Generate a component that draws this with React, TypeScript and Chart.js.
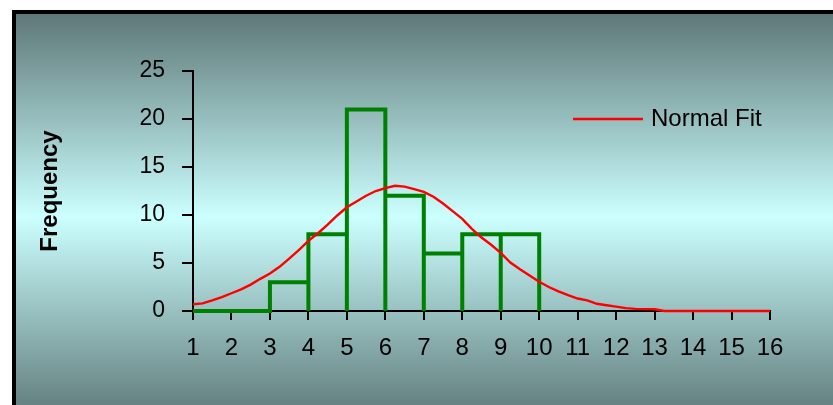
import React, { useEffect, useRef } from "react";
import { Chart, registerables } from "chart.js";

Chart.register(...registerables);

// ---- data ----
const binStarts = [1, 2, 3, 4, 5, 6, 7, 8, 9];
const binEnds = [2, 3, 4, 5, 6, 7, 8, 9, 10];
const frequencies = [0, 0, 3, 8, 21, 12, 6, 8, 8];

const fitX = [
  1, 1.25, 1.5, 1.75, 2, 2.25, 2.5, 2.75, 3, 3.25, 3.5, 3.75, 4, 4.25, 4.5, 4.75,
  5, 5.25, 5.5, 5.75, 6, 6.25, 6.5, 6.75, 7, 7.25, 7.5, 7.75, 8, 8.25, 8.5, 8.75,
  9, 9.25, 9.5, 9.75, 10, 10.25, 10.5, 10.75, 11, 11.25, 11.5, 11.75, 12, 12.25,
  12.5, 12.75, 13, 13.25, 13.5, 14, 14.5, 15, 15.5, 16,
];
const fitY = [
  0.7, 0.8, 1.1, 1.45, 1.85, 2.25, 2.75, 3.35, 3.9, 4.6, 5.45, 6.35, 7.3, 8.1, 9.0, 9.95,
  10.8, 11.4, 12.0, 12.5, 12.8, 13.05, 12.95, 12.7, 12.4, 11.9, 11.2, 10.4, 9.6, 8.55, 7.65, 6.9,
  6.05, 5.05, 4.35, 3.7, 3.05, 2.5, 2.05, 1.65, 1.3, 1.1, 0.75, 0.6, 0.45, 0.3,
  0.22, 0.2, 0.18, 0, 0, 0, 0, 0, 0, 0,
];

const xMin = 1;
const xMax = 16;
const yMin = 0;
const yMax = 25;
const yStep = 5;
const fitLabel = "Normal Fit";
const yTitle = "Frequency";

const FONT = '"Liberation Sans", Arial, Helvetica, sans-serif';

const backgroundPlugin = {
  id: "bgFrame",
  beforeDraw(chart: any) {
    const { ctx, width, height } = chart;
    ctx.save();
    ctx.fillStyle = "#ffffff";
    ctx.fillRect(0, 0, width, height);
    const top = 14;
    const bottom = 420;
    const g = ctx.createLinearGradient(0, top, 0, bottom);
    g.addColorStop(0, "#5e7878");
    g.addColorStop(0.5, "#ccffff");
    g.addColorStop(1, "#5e7878");
    ctx.fillStyle = g;
    ctx.fillRect(16, top, width - 16, height - top);
    ctx.fillStyle = "#000000";
    ctx.fillRect(12, 10, width - 12, 4);
    ctx.fillRect(12, 10, 4, height - 10);
    ctx.restore();
  },
};

const legendPlugin = {
  id: "customLegend",
  afterDraw(chart: any) {
    const ds = chart.data.datasets[0];
    const { ctx } = chart;
    ctx.save();
    ctx.strokeStyle = ds.borderColor;
    ctx.lineWidth = 2.3;
    ctx.beginPath();
    ctx.moveTo(573, 119);
    ctx.lineTo(643, 119);
    ctx.stroke();
    ctx.fillStyle = "#000000";
    ctx.font = `24px ${FONT}`;
    ctx.textBaseline = "middle";
    ctx.textAlign = "left";
    ctx.fillText(ds.label, 651, 119);
    ctx.restore();
  },
};

export default function App() {
  const ref = useRef<HTMLCanvasElement | null>(null);

  useEffect(() => {
    if (!ref.current) return;
    const outline: { x: number; y: number }[] = [];
    binStarts.forEach((s, i) => {
      const e = binEnds[i];
      const f = frequencies[i];
      outline.push({ x: s, y: 0 }, { x: s, y: f }, { x: e, y: f }, { x: e, y: 0 });
    });
    const fit = fitX.map((x, i) => ({ x, y: fitY[i] }));

    const chart = new Chart(ref.current, {
      type: "line",
      data: {
        datasets: [
          {
            label: fitLabel,
            data: fit,
            borderColor: "#ff0000",
            borderWidth: 2.4,
            pointRadius: 0,
            fill: false,
            tension: 0,
            order: 0,
            clip: false as any,
          },
          {
            label: "Histogram",
            data: outline,
            borderColor: "#008000",
            borderWidth: 4,
            pointRadius: 0,
            fill: false,
            tension: 0,
            borderJoinStyle: "miter",
            borderCapStyle: "butt",
            order: 1,
            clip: false as any,
          },
        ],
      },
      options: {
        responsive: false,
        animation: false,
        layout: { padding: { top: 71, right: 63, left: 0, bottom: 0 } },
        plugins: {
          legend: { display: false },
          tooltip: { enabled: false },
        },
        scales: {
          x: {
            type: "linear",
            min: xMin,
            max: xMax,
            ticks: {
              stepSize: 1,
              color: "#000000",
              font: { family: FONT, size: 24 },
              padding: 14,
              maxRotation: 0,
              autoSkip: false,
            },
            grid: {
              drawOnChartArea: false,
              drawTicks: true,
              tickLength: 9,
              color: "#000000",
              lineWidth: 2,
            },
            border: { display: true, color: "#000000", width: 2 },
            afterFit: (s: any) => {
              s.height = 94;
            },
          },
          y: {
            type: "linear",
            min: yMin,
            max: yMax,
            ticks: {
              stepSize: yStep,
              color: "#000000",
              font: { family: FONT, size: 23 },
              padding: 17,
            },
            grid: {
              drawOnChartArea: false,
              drawTicks: true,
              tickLength: 11,
              color: "#000000",
              lineWidth: 2,
            },
            border: { display: true, color: "#000000", width: 2 },
            title: {
              display: true,
              text: yTitle,
              color: "#000000",
              font: { family: FONT, size: 24, weight: "bold" },
              padding: { top: 36, bottom: 0 },
            },
            afterFit: (s: any) => {
              s.width = 193;
            },
          },
        },
      },
      plugins: [backgroundPlugin, legendPlugin],
    });
    return () => chart.destroy();
  }, []);

  return (
    <div style={{ position: "absolute", left: 0, top: 0, width: 833, height: 405 }}>
      <canvas ref={ref} width={833} height={405} style={{ display: "block" }} />
    </div>
  );
}
